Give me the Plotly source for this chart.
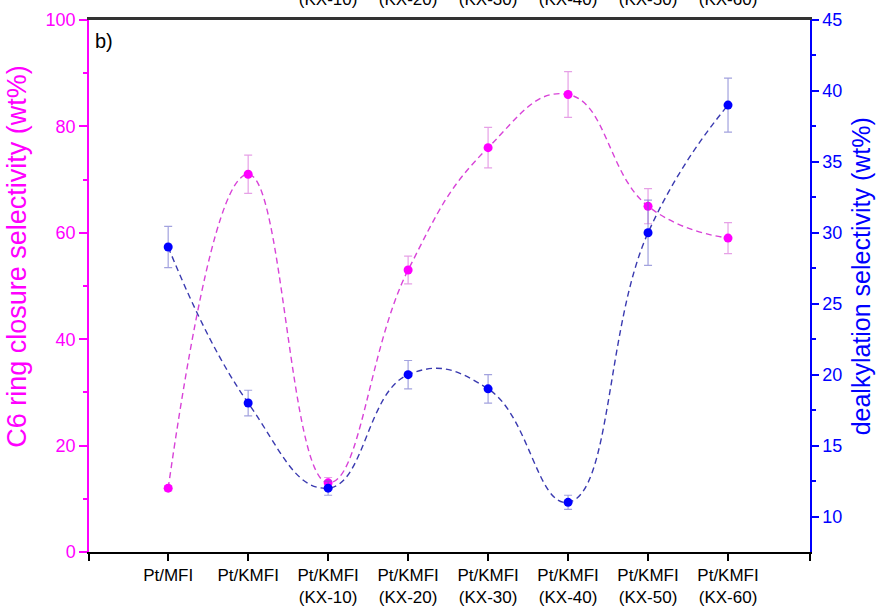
import plotly.graph_objects as go

categories = ["Pt/MFI", "Pt/KMFI", "Pt/KMFI<br>(KX-10)", "Pt/KMFI<br>(KX-20)", "Pt/KMFI<br>(KX-30)",
              "Pt/KMFI<br>(KX-40)", "Pt/KMFI<br>(KX-50)", "Pt/KMFI<br>(KX-60)"]
top_labels = ["", "", "(KX-10)", "(KX-20)", "(KX-30)", "(KX-40)", "(KX-50)", "(KX-60)"]
c6_ring = [12, 71, 13, 53, 76, 86, 65, 59]
c6_err = [0.5, 3.6, 1.0, 2.6, 3.8, 4.3, 3.3, 2.9]
dealkyl = [29, 18, 12, 20, 19, 11, 30, 39]
dealkyl_err = [1.45, 0.9, 0.5, 1.0, 1.0, 0.5, 2.3, 1.9]

xpos = list(range(len(categories)))
XRANGE = [-0.99, 8.025]
MAG = "#FF00FF"
BLU = "#0000FF"
FONT = "Liberation Sans, Arial, sans-serif"

fig = go.Figure()
fig.add_trace(go.Scatter(
    x=xpos, y=c6_ring, mode="lines", line=dict(color="#D843D8", width=1.4, dash="6px,4px", shape="spline", smoothing=1.3),
    hoverinfo="skip", showlegend=False))
fig.add_trace(go.Scatter(
    x=xpos, y=c6_ring, mode="markers", marker=dict(color=MAG, size=9),
    error_y=dict(type="data", array=c6_err, color="rgba(220,120,220,0.7)", thickness=1.2, width=4),
    showlegend=False))
fig.add_trace(go.Scatter(
    x=xpos, y=dealkyl, mode="lines", yaxis="y2",
    line=dict(color="#3A3AB0", width=1.4, dash="6px,4px", shape="spline", smoothing=1.3),
    hoverinfo="skip", showlegend=False))
fig.add_trace(go.Scatter(
    x=xpos, y=dealkyl, mode="markers", yaxis="y2", marker=dict(color=BLU, size=9),
    error_y=dict(type="data", array=dealkyl_err, color="rgba(100,100,200,0.6)", thickness=1.2, width=4),
    showlegend=False))
# invisible trace to activate top axis
fig.add_trace(go.Scatter(x=xpos, y=c6_ring, xaxis="x2", mode="markers", marker=dict(opacity=0),
                         hoverinfo="skip", showlegend=False))

fig.update_layout(
    width=880, height=615,
    margin=dict(l=89, r=70, t=20, b=63),
    paper_bgcolor="white", plot_bgcolor="white",
    font=dict(family=FONT, size=18, color="black"),
    xaxis=dict(range=XRANGE, tickvals=[XRANGE[0]] + xpos + [XRANGE[1]], ticktext=[""] + categories + [""],
               showline=True, linecolor="black", linewidth=1.5, ticks="outside", ticklen=7,
               tickcolor="black", tickwidth=1.5, showgrid=False, zeroline=False, automargin=False,
               tickfont=dict(size=17, color="black")),
    xaxis2=dict(range=XRANGE, overlaying="x", side="top", tickvals=xpos, ticktext=top_labels,
                showline=True, linecolor="#333333", linewidth=2.5, ticks="", showgrid=False, zeroline=False,
                automargin=False, ticklabelstandoff=5, tickfont=dict(size=17, color="black")),
    yaxis=dict(range=[0, 100], tickvals=[0, 20, 40, 60, 80, 100], showline=True, linecolor=MAG, linewidth=1.5,
               ticks="outside", ticklen=8, tickcolor=MAG, tickwidth=1.5, automargin=False,
               minor=dict(tickvals=[10, 30, 50, 70, 90], ticks="outside", ticklen=4, tickcolor=MAG, tickwidth=1.5),
               showgrid=False, zeroline=False, tickfont=dict(size=18, color=MAG)),
    yaxis2=dict(range=[7.5, 45], overlaying="y", side="right", tickvals=[10, 15, 20, 25, 30, 35, 40, 45],
                showline=True, linecolor=BLU, linewidth=1.5, ticks="outside", ticklen=7, tickcolor=BLU, tickwidth=1.5,
                minor=dict(tickvals=[12.5, 17.5, 22.5, 27.5, 32.5, 37.5, 42.5], ticks="outside", ticklen=4,
                           tickcolor=BLU, tickwidth=1.5),
                automargin=False, showgrid=False, zeroline=False, tickfont=dict(size=18, color=BLU)),
    annotations=[
        dict(text="b)", xref="paper", yref="paper", x=0.006, y=0.985, xanchor="left", yanchor="top",
             showarrow=False, font=dict(size=20, color="black")),
        dict(text="C6 ring closure selectivity (wt%)", xref="paper", yref="paper", x=-0.099, y=0.556,
             xanchor="center", yanchor="middle", textangle=-90, showarrow=False,
             font=dict(size=27, color=MAG)),
        dict(text="dealkylation selectivity (wt%)", xref="paper", yref="paper", x=1.07, y=0.519,
             xanchor="center", yanchor="middle", textangle=-90, showarrow=False,
             font=dict(size=25, color=BLU)),
    ],
)

fig.write_html("out.html")
